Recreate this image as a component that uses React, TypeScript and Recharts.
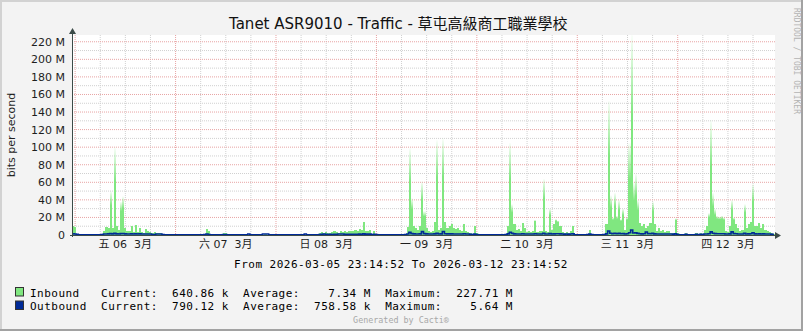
import React from 'react';
import { ComposedChart, Bar, Line, XAxis, YAxis, CartesianGrid } from 'recharts';

// page has an 8px body margin by default; the graph sits flush at the top-left
document.body.style.margin = '0';

// ─── Data (bits per second, in M; one value per 30-minute step) ─────────────
// Each array covers 24 h, starting at 23:15 of the previous day.

const inMar06 = [10, 9, 1, 0.3, 0.3, 0.3, 0.3, 0.3, 0.3, 0.3, 0.3, 0.3, 0.3, 0.3, 0.3,
  5, 9, 8, 50, 8, 100, 10, 6, 38, 44, 8, 5, 4, 10, 3, 11, 3, 8, 3, 2,
  7, 5, 3, 2, 3, 2, 2, 2, 1, 1, 0.5, 0.3, 0.3];
const inMar07 = [0.3, 0.2, 0.3, 0.2, 0.2, 0.3, 0.2, 0.2, 0.2, 0.3, 0.2, 0.2, 0.3, 0.4, 0.5, 1,
  7, 4, 1, 0.5, 0.4, 0.3, 0.5, 1, 2, 2, 0.6, 0.4, 0.3, 0.3, 0.2, 0.2,
  0.3, 0.2, 0.2, 0.3, 0.5, 0.3, 0.2, 0.2, 0.3, 0.2, 0.3, 0.5, 0.6, 0.5, 0.3, 0.2];
const inMar08 = [0.2, 0.2, 0.3, 0.2, 0.2, 0.2, 0.3, 0.2, 0.2, 0.2, 0.2, 0.3, 0.2, 0.2, 0.3, 0.5,
  0.3, 0.2, 0.2, 0.3, 0.5, 1, 2, 3, 2, 3, 2, 2, 3, 4, 3, 2,
  4, 3, 4, 3, 4, 5, 5, 6, 5, 7, 6, 15, 4, 5, 6, 1];
const inMar09 = [5, 1, 0.3, 0.2, 0.2, 0.3, 0.2, 0.2, 0.2, 0.3, 0.2, 0.2, 0.3, 0.4, 0.5, 1,
  9, 99, 42, 10, 8, 6, 10, 61, 27, 8, 4, 3, 4, 15, 108, 6, 8, 110, 15, 8,
  10, 12, 8, 7, 8, 6, 5, 13, 4, 3, 2, 1];
const inMar10 = [10, 2, 0.3, 0.2, 0.2, 0.2, 0.3, 0.2, 0.2, 0.2, 0.3, 0.2, 0.2, 0.3, 0.5, 1,
  10, 105, 35, 12, 6, 7, 5, 14, 8, 3, 4, 3, 5, 17, 3, 4, 5, 64, 4, 3,
  30, 6, 12, 18, 16, 10, 3, 2, 3, 2, 4, 10];
const inMar11 = [0.5, 0.3, 0.2, 0.2, 0.3, 0.5, 1, 6, 1, 0.3, 0.2, 0.2, 0.3, 0.4, 0.8,
  12, 153, 45, 20, 48, 22, 40, 18, 30, 6, 20, 105, 227.71, 60, 70, 40, 14, 10, 12, 8,
  10, 14, 38, 12, 5, 8, 4, 6, 3, 5, 4, 2, 2];
const inMar12 = [19, 2, 0.3, 0.3, 0.3, 2, 0.3, 0.3, 0.3, 0.3, 2, 0.5, 2, 0.5, 6, 10,
  25, 131, 48, 30, 22, 21, 22, 20, 5, 3, 10, 40, 20, 12, 8, 5, 6, 35, 8, 12,
  15, 58, 10, 10, 14, 8, 12, 6, 5, 3, 2, 0.64];

const outMar06 = [1.3, 1.2, 0.8, 0.3, 0.3, 0.3, 0.3, 0.3, 0.3, 0.3, 0.3, 0.3, 0.3, 0.3, 0.4,
  1.1, 1.2, 1.3, 1.6, 1.3, 1.8, 1.3, 1.2, 1.6, 1.7, 1.3, 1.2, 1.2, 1.3, 1.2, 1.3, 1.2, 1.3, 1.2, 1.1,
  1.2, 1.2, 1.1, 0.5, 0.4, 1.1, 1.2, 1.1, 0.4, 0.3, 0.3, 0.3, 0.3];
const outMar07 = [0.3, 0.3, 0.3, 0.3, 0.3, 0.3, 0.3, 0.3, 0.3, 0.3, 0.3, 0.3, 0.3, 0.3, 0.3, 0.4,
  1.1, 0.6, 0.3, 0.3, 0.3, 0.3, 0.3, 0.3, 0.5, 0.5, 0.3, 0.3, 0.3, 0.3, 0.3, 0.3,
  0.3, 0.3, 0.3, 0.3, 1.2, 0.3, 0.3, 0.3, 0.3, 0.3, 0.3, 1.2, 1.2, 1.2, 0.3, 0.3];
const outMar08 = [0.3, 0.3, 0.3, 0.3, 0.3, 0.3, 0.3, 0.3, 0.3, 0.3, 0.3, 0.3, 0.3, 0.3, 0.3, 1.1,
  0.3, 0.3, 0.3, 0.3, 0.3, 0.3, 0.6, 0.7, 1.2, 0.7, 0.6, 0.7, 0.6, 0.7, 0.7, 1.2,
  1.2, 1.2, 0.7, 0.7, 0.8, 0.8, 0.9, 0.9, 0.9, 1.0, 0.9, 1.3, 1.0, 1.0, 1.0, 0.4];
const outMar09 = [0.8, 0.4, 0.3, 0.3, 0.3, 0.3, 0.3, 0.3, 0.3, 0.3, 0.3, 0.3, 0.3, 0.3, 0.3, 0.4,
  1.2, 3.0, 1.6, 1.3, 1.2, 1.2, 1.3, 3.8, 1.6, 1.3, 1.2, 1.2, 1.2, 1.3, 1.8, 1.2,
  1.3, 4.0, 1.5, 1.3, 1.3, 1.3, 1.2, 1.2, 1.2, 1.2, 1.2, 1.4, 1.2, 1.1, 0.8, 0.4];
const outMar10 = [1.0, 0.4, 0.3, 0.3, 0.3, 0.3, 0.3, 0.3, 0.3, 0.3, 0.3, 0.3, 0.3, 0.3, 0.3, 0.4,
  1.3, 3.2, 1.8, 1.3, 1.2, 1.2, 1.2, 1.4, 1.2, 1.1, 1.2, 1.1, 1.2, 1.4, 1.1, 1.2,
  1.2, 2.0, 1.2, 1.1, 1.6, 1.2, 1.3, 1.4, 1.4, 1.3, 1.1, 1.0, 1.1, 1.0, 1.1, 1.3];
const outMar11 = [0.3, 0.3, 0.3, 0.3, 0.3, 0.3, 0.4, 1.0, 0.4, 0.3, 0.3, 0.3, 0.3, 0.3, 0.5, 1.3,
  4.5, 2.0, 1.4, 2.0, 1.5, 1.8, 1.4, 1.6, 1.2, 1.4, 2.5, 5.64, 2.2, 2.4, 1.8, 1.4,
  1.3, 1.4, 3.5, 1.6, 1.4, 1.8, 1.3, 1.2, 1.2, 1.2, 1.2, 1.1, 1.2, 1.1, 1.1, 1.0];
const outMar12 = [1.3, 0.5, 0.3, 0.3, 0.3, 0.8, 0.3, 0.3, 0.3, 0.3, 0.8, 0.3, 0.8, 0.4, 1.1, 1.2,
  1.4, 3.6, 2.0, 1.6, 1.5, 1.4, 1.4, 1.4, 1.2, 1.1, 1.3, 3.6, 1.6, 1.4, 1.2, 1.2,
  1.2, 1.8, 1.2, 1.3, 1.4, 2.5, 1.3, 1.2, 1.3, 1.2, 1.3, 1.2, 1.2, 1.1, 0.9, 0.79];

const inboundSteps = [...inMar06, ...inMar07, ...inMar08, ...inMar09, ...inMar10, ...inMar11, ...inMar12];
const outboundSteps = [...outMar06, ...outMar07, ...outMar08, ...outMar09, ...outMar10, ...outMar11, ...outMar12];

// hours since 2026-03-05 23:14:52
const dayNoonHours = [12.75, 36.75, 60.75, 84.75, 108.75, 132.75, 156.75];
const dayLabels = ['五 06  3月', '六 07  3月', '日 08  3月', '一 09  3月', '二 10  3月', '三 11  3月', '四 12  3月'];
const midnightHours = [0.75, 24.75, 48.75, 72.75, 96.75, 120.75, 144.75];
const sixHourHours = [6.75, 12.75, 18.75, 30.75, 36.75, 42.75, 54.75, 60.75, 66.75, 78.75, 84.75, 90.75,
  102.75, 108.75, 114.75, 126.75, 132.75, 138.75, 150.75, 156.75, 162.75];
const yTicks = [0, 20, 40, 60, 80, 100, 120, 140, 160, 180, 200, 220];
const yMajorLines = [20, 40, 60, 80, 100, 120, 140, 160, 180, 200, 220];
const yMinorLines = [10, 30, 50, 70, 90, 110, 130, 150, 170, 190, 210];
const yMax = 227.71;

const legendRows = [
  { name: 'Inbound ', current: '640.86 k', average: '  7.34 M', maximum: '227.71 M' },
  { name: 'Outbound', current: '790.12 k', average: '758.58 k', maximum: '  5.64 M' },
];

// ─── Look ────────────────────────────────────────────────────────────────────

const COLORS = {
  page: '#F3F3F3',
  canvas: '#FFFFFF',
  inbound: '#80E780',
  outbound: '#002A97',
  axis: '#3C4B48',
  text: '#1E1E1E',
  gridMinor: '#D0D0D0',
  gridMajor: '#E8A4A4',
  shadeA: '#D2D2D2',
  shadeB: '#A2A2A2',
  faint: '#A8A8A8',
};

const SANS = '"DejaVu Sans", "Noto Sans CJK TC", sans-serif';
const MONO = '"DejaVu Sans Mono", monospace';

const W = 803;
const H = 331;
const PLOT = { left: 72, right: 775, top: 35, bottom: 235 };
const X_AXIS_H = 26;

const rows = inboundSteps.map((v, i) => ({
  slot: i,
  t: (i + 0.5) * 0.5,
  inbound: v,
  outbound: outboundSteps[i],
}));

// ─── Inbound column: solid body, top fades out like rrdtool's gradient area ─

function InboundColumn(props: any) {
  const { x, y, width, height } = props;
  if (!(height > 0)) return null;
  const band = (PLOT.right - PLOT.left) / inboundSteps.length;
  const start = x - (band - width) / 2;
  const x0 = Math.round(start);
  const x1 = Math.round(start + band);
  const fade = Math.max(0, Math.min((height - 12) * 0.45, 80));
  return (
    <g shapeRendering="crispEdges">
      <rect x={x0} y={y + fade} width={x1 - x0} height={height - fade} fill={COLORS.inbound} />
      {fade > 0 && <rect x={x0} y={y} width={x1 - x0} height={fade} fill="url(#inboundFade)" />}
    </g>
  );
}

function DayTick(props: any) {
  const { x, y, payload } = props;
  const idx = dayNoonHours.indexOf(payload.value);
  return (
    <text
      x={x}
      y={y}
      dy="0.71em"
      textAnchor="middle"
      fill={COLORS.text}
      fontSize={11}
      fontFamily={SANS}
      style={{ whiteSpace: 'pre' }}
    >
      {dayLabels[idx]}
    </text>
  );
}

// ─── Chart ───────────────────────────────────────────────────────────────────

export default function App() {
  const monoRow = { fontFamily: MONO, fontSize: 11, letterSpacing: 0.48, fill: '#000' };
  return (
    <div style={{ position: 'relative', width: W, height: H, background: COLORS.page, overflow: 'hidden' }}>
      <ComposedChart
        width={W}
        height={H}
        data={rows}
        barCategoryGap={0}
        barGap={0}
        margin={{ top: PLOT.top, right: W - PLOT.right, bottom: H - PLOT.bottom - X_AXIS_H, left: 0 }}
      >
        <CartesianGrid
          xAxisId="t"
          horizontalValues={yMinorLines}
          verticalValues={sixHourHours}
          stroke={COLORS.gridMinor}
          strokeDasharray="1 1"
          fill={COLORS.canvas}
          fillOpacity={1}
        />
        <CartesianGrid
          xAxisId="t"
          horizontalValues={yMajorLines}
          verticalValues={midnightHours}
          stroke={COLORS.gridMajor}
          strokeDasharray="1 1"
        />
        <XAxis xAxisId="cat" dataKey="slot" orientation="top" height={0} hide />
        <XAxis
          xAxisId="t"
          dataKey="t"
          type="number"
          domain={[0, 168]}
          allowDataOverflow
          ticks={dayNoonHours}
          interval={0}
          height={X_AXIS_H}
          axisLine={false}
          tickLine={false}
          tickSize={0}
          tickMargin={5}
          tick={<DayTick />}
        />
        <YAxis
          type="number"
          domain={[0, yMax]}
          allowDataOverflow
          ticks={yTicks}
          interval={0}
          width={PLOT.left}
          axisLine={false}
          tickLine={false}
          tickSize={3}
          tickMargin={4}
          tick={{ fill: COLORS.text, fontSize: 11, fontFamily: SANS }}
          tickFormatter={(v: number) => (v === 0 ? '0' : `${v} M`)}
        />
        <Bar
          xAxisId="cat"
          dataKey="inbound"
          shape={(p: any) => <InboundColumn {...p} />}
          isAnimationActive={false}
        />
        <Line
          xAxisId="cat"
          dataKey="outbound"
          type="step"
          stroke={COLORS.outbound}
          strokeWidth={1.6}
          dot={false}
          activeDot={false}
          isAnimationActive={false}
        />
      </ComposedChart>

      {/* frame, title, axis arrows and the rrdtool-style legend */}
      <svg
        width={W}
        height={H}
        style={{ position: 'absolute', left: 0, top: 0, pointerEvents: 'none' }}
      >
        <defs>
          <linearGradient id="inboundFade" x1="0" y1="0" x2="0" y2="1">
            <stop offset="0%" stopColor={COLORS.inbound} stopOpacity={0.03} />
            <stop offset="55%" stopColor={COLORS.inbound} stopOpacity={0.55} />
            <stop offset="100%" stopColor={COLORS.inbound} stopOpacity={1} />
          </linearGradient>
        </defs>

        <rect x={0} y={0} width={W} height={2} fill={COLORS.shadeA} />
        <rect x={0} y={0} width={2} height={H} fill={COLORS.shadeA} />
        <rect x={0} y={H - 2} width={W} height={2} fill={COLORS.shadeB} />
        <rect x={W - 2} y={0} width={2} height={H} fill={COLORS.shadeB} />

        <text x={229} y={28.5} fill="#111" fontFamily={SANS}>
          <tspan fontSize={15}>Tanet ASR9010 - Traffic - </tspan>
          <tspan fontSize={15} fontFamily='"Noto Sans CJK TC", sans-serif'>
            草屯高級商工職業學校
          </tspan>
        </text>

        <text
          x={15}
          y={135}
          transform="rotate(-90 15 135)"
          textAnchor="middle"
          fill={COLORS.text}
          fontSize={11}
          fontFamily={SANS}
        >
          bits per second
        </text>

        <text
          x={794}
          y={8}
          transform="rotate(90 794 8)"
          fill="#B4B4B4"
          fontSize={8}
          fontFamily={MONO}
        >
          RRDTOOL / TOBI OETIKER
        </text>

        {/* axes with arrow heads */}
        <line x1={70} y1={235.5} x2={777} y2={235.5} stroke={COLORS.axis} strokeWidth={1} />
        <polygon points="775,232 781,235.5 775,239" fill={COLORS.axis} />
        <line x1={72.5} y1={237} x2={72.5} y2={32} stroke={COLORS.axis} strokeWidth={1} />
        <polygon points="69,34 72.5,28 76,34" fill={COLORS.axis} />

        <text x={401} y={267.5} textAnchor="middle" {...monoRow} style={{ whiteSpace: 'pre' }}>
          From 2026-03-05 23:14:52 To 2026-03-12 23:14:52
        </text>

        {legendRows.map((r, i) => (
          <g key={r.name}>
            <rect
              x={15.5}
              y={287.5 + i * 13.5}
              width={8}
              height={8.5}
              fill={i === 0 ? COLORS.inbound : COLORS.outbound}
              stroke="#333"
              strokeWidth={1}
            />
            <text x={30} y={296.5 + i * 13.5} {...monoRow} style={{ whiteSpace: 'pre' }}>
              {`${r.name}  Current:  ${r.current}  Average:  ${r.average}  Maximum:  ${r.maximum}`}
            </text>
          </g>
        ))}

        <text
          x={401}
          y={322.5}
          textAnchor="middle"
          fill={COLORS.faint}
          fontSize={8.4}
          fontFamily={MONO}
        >
          Generated by Cacti®
        </text>
      </svg>
    </div>
  );
}
